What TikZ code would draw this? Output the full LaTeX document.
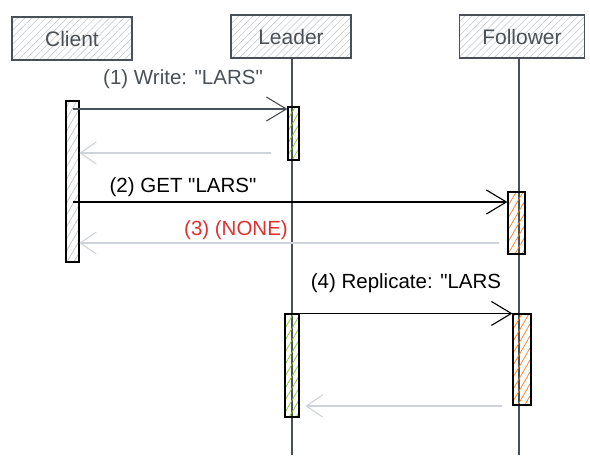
\documentclass[tikz,border=0pt]{standalone}
\usepackage{fontspec}
\setmainfont{Liberation Sans}[Ligatures=TeXOff]
\usetikzlibrary{arrows.meta,patterns.meta}

\definecolor{inkgray}{HTML}{495057}
\definecolor{palegray}{HTML}{CED4DA}
\definecolor{hatchgray}{HTML}{BFC4C9}
\definecolor{leafgreen}{HTML}{82C91E}
\definecolor{tangerine}{HTML}{FD7E14}
\definecolor{alertred}{HTML}{E03131}

\tikzset{
  head/.style={draw=inkgray, line width=1.1pt, minimum width=120pt, minimum height=43pt,
    font=\fontsize{21}{24}\selectfont, text=inkgray,
    pattern={Lines[angle=45,distance=5pt,line width=0.5pt]}, pattern color=hatchgray},
  actbar/.style={draw=black, line width=1.1pt, inner sep=0pt,
    pattern={Lines[angle=60,distance=6pt,line width=0.7pt]}},
  lifeline/.style={inkgray, line width=1.1pt},
  msg/.style={line width=1.1pt, -{Straight Barb[length=20pt,width=24pt,line width=1.1pt]}},
  reply/.style={palegray, line width=1.1pt, -{Straight Barb[length=16pt,width=22pt,line width=1.1pt]}},
  lbl/.style={font=\fontsize{20.5}{24}\selectfont, inner sep=1pt}
}

\begin{document}
\begin{tikzpicture}[x=1pt, y=-1pt]
  \useasboundingbox (0,0) rectangle (590,474);

  % participants
  \node[head] (client) at (72,38.5) {Client};
  \node[head] (leader) at (291,36.5) {Leader};
  \node[head, minimum width=125pt] (follower) at (522,36.5) {Follower};

  \coordinate (lend) at (292,455);
  \coordinate (fend) at (519,455);
  \draw[lifeline] (leader.south -| lend) -- (lend);
  \draw[lifeline] (follower.south -| fend) -- (fend);

  % activations
  \node[actbar, pattern color=hatchgray, minimum width=13pt, minimum height=161pt] (cbar) at (72.5,181.5) {};
  \node[actbar, pattern color=leafgreen, minimum width=11pt, minimum height=53pt] (lbarA) at (293.5,133.5) {};
  \node[actbar, pattern color=tangerine, minimum width=17pt, minimum height=62pt] (fbarA) at (516.5,223) {};
  \node[actbar, pattern color=leafgreen, minimum width=14pt, minimum height=103pt] (lbarB) at (292,365.5) {};
  \node[actbar, pattern color=tangerine, minimum width=18pt, minimum height=91pt] (fbarB) at (522,359.5) {};

  % messages
  \draw[msg, inkgray] (cbar.center |- 0,109) -- (lbarA.west |- 0,109);
  \node[lbl, text=inkgray] (write) at (183,79) {(1) Write: "LARS"};
  \draw[reply] ([xshift=-16pt]lbarA.west |- 0,153) -- (cbar.east |- 0,153);

  \draw[msg] (cbar.center |- 0,202) -- (fbarA.west |- 0,202);
  \node[lbl] (get) at (183,187) {(2) GET "LARS"};
  \draw[reply] ([xshift=-8pt]fbarA.west |- 0,243) -- (cbar.east |- 0,243);
  \node[lbl, text=alertred] (none) at (236,230) {(3) (NONE)};

  \node[lbl] (repl) at (406,283) {(4) Replicate: "LARS};
  \draw[msg] (lbarB.north west) -- (fbarB.north west);
  \draw[reply] ([xshift=-10pt]fbarB.west |- 0,406) -- ([xshift=6pt]lbarB.east |- 0,406);
\end{tikzpicture}
\end{document}
